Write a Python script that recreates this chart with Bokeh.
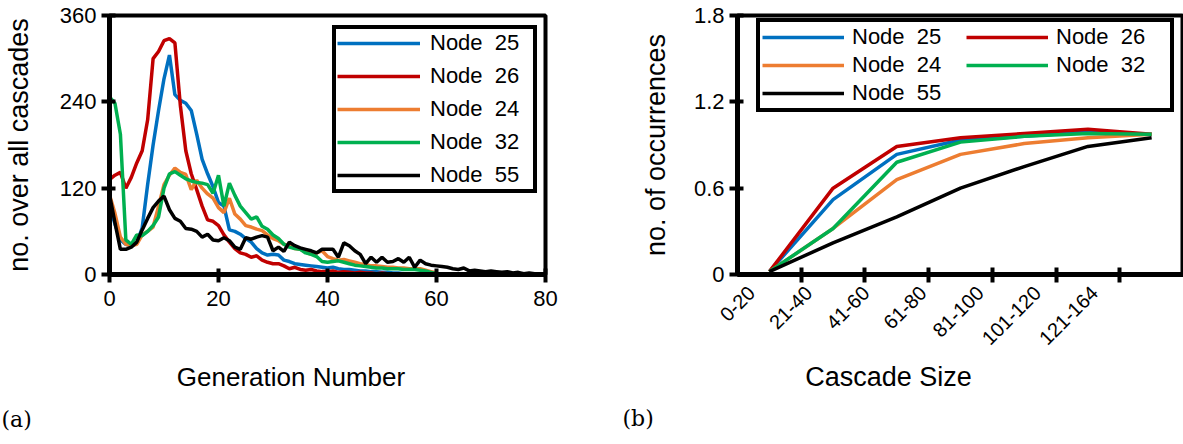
import math
from bokeh.plotting import figure
from bokeh.models import FixedTicker, Legend, LegendItem, Range1d, LinearAxis, Title
from bokeh.layouts import row
from bokeh.embed import file_html
from bokeh.resources import INLINE

# ---------------- data: panel (a) ----------------
gen_ticks = [0, 20, 40, 60, 80]
count_ticks = [0, 120, 240, 360]

node25 = [97, 70, 48, 42, 40, 44, 65, 125, 180, 228, 272, 305, 250, 242, 238, 228, 195, 160,
          140, 122, 100, 95, 62, 60, 56, 50, 45, 36, 30, 27, 28, 27, 20, 18, 15, 14, 13, 12,
          11, 10, 9, 10, 8, 7, 7, 6, 5, 5, 4, 4, 3, 3, 2, 2, 1, 1]
node26 = [132, 138, 142, 120, 135, 155, 172, 215, 300, 310, 325, 328, 322, 235, 172, 140, 118, 95,
          76, 74, 68, 55, 45, 36, 30, 28, 24, 26, 20, 17, 15, 15, 12, 8, 10, 7, 6, 7,
          5, 4, 4, 5, 3, 4, 3, 2, 3, 2, 2, 1, 2, 1, 1, 1, 0, 0]
node24 = [111, 85, 52, 42, 40, 42, 55, 60, 66, 95, 125, 138, 148, 142, 139, 118, 131, 120,
          112, 106, 93, 86, 106, 84, 77, 68, 66, 63, 61, 55, 50, 47, 42, 40, 36, 35, 31, 28,
          30, 33, 25, 22, 20, 21, 19, 17, 15, 14, 12, 12, 11, 10, 10, 9, 9, 8, 8, 8, 6, 4, 2]
node32 = [247, 238, 195, 48, 42, 55, 54, 60, 68, 80, 120, 140, 143, 138, 133, 130, 128, 127,
          125, 113, 138, 95, 127, 110, 95, 86, 77, 80, 67, 63, 55, 50, 42, 38, 36, 35, 30, 28,
          25, 18, 17, 18, 19, 17, 15, 13, 12, 11, 10, 9, 9, 8, 8, 8, 7, 7, 7, 6, 5, 3, 1]
node55 = [111, 72, 35, 35, 38, 45, 62, 78, 93, 102, 109, 90, 78, 74, 64, 63, 60, 52,
          56, 48, 47, 51, 47, 38, 35, 51, 49, 52, 54, 52, 33, 38, 32, 45, 40, 37, 35, 33,
          30, 35, 35, 35, 24, 44, 40, 33, 28, 15, 24, 17, 24, 17, 18, 22, 17, 24, 10, 20,
          15, 13, 12, 11, 10, 8, 7, 9, 5, 6, 5, 4, 5, 4, 3, 4, 2, 3, 1, 2, 1, 1, 1]

# ---------------- data: panel (b) ----------------
cascade_sizes = ["0-20", "21-40", "41-60", "61-80", "81-100", "101-120", "121-164"]
occ_ticks = [0, 0.6, 1.2, 1.8]
occ25 = [0.02, 0.52, 0.835, 0.935, 0.96, 0.99, 0.975]
occ26 = [0.02, 0.60, 0.89, 0.95, 0.98, 1.01, 0.975]
occ24 = [0.02, 0.32, 0.66, 0.835, 0.91, 0.95, 0.975]
occ32 = [0.02, 0.32, 0.78, 0.92, 0.96, 0.98, 0.975]
occ55 = [0.02, 0.22, 0.40, 0.60, 0.75, 0.89, 0.95]

labels = ["Node  25", "Node  26", "Node  24", "Node  32", "Node  55"]
colors = ["#0070C0", "#C00000", "#ED7D31", "#00B050", "#000000"]

FONT = "Liberation Sans"
SERIF = "DejaVu Serif"


def style_axis(ax):
    ax.axis_line_width = 5
    ax.axis_line_color = "black"
    ax.major_tick_line_width = 4
    ax.major_tick_line_color = "black"
    ax.major_tick_in = 6
    ax.major_tick_out = 8
    ax.minor_tick_line_color = None
    ax.major_label_text_font = FONT
    ax.major_label_text_font_size = "22px"
    ax.major_label_text_color = "black"
    ax.axis_label_text_font = FONT
    ax.axis_label_text_font_style = "normal"
    ax.axis_label_text_font_size = "27px"
    ax.axis_label_text_color = "black"


def style(p):
    p.xgrid.visible = False
    p.ygrid.visible = False
    p.outline_line_color = "black"
    p.outline_line_width = 4
    p.background_fill_color = "white"
    p.border_fill_color = "white"
    style_axis(p.xaxis[0])
    style_axis(p.yaxis[0])


def title_axis(pos, text, size, standoff, range_name="default"):
    """A line-less axis whose single tick label serves as the x-axis title."""
    ax = LinearAxis(x_range_name=range_name, ticker=FixedTicker(ticks=[pos]))
    style_axis(ax)
    ax.axis_line_color = None
    ax.major_tick_line_color = None
    ax.major_tick_in = 0
    ax.major_tick_out = 0
    ax.major_label_overrides = {pos: text}
    ax.major_label_text_font_size = size
    ax.major_label_standoff = standoff
    return ax


def tag(text, offset, standoff):
    return Title(text=text, align="left", offset=offset, standoff=standoff,
                 text_font=SERIF, text_font_size="22px", text_font_style="normal",
                 text_color="black")


H = 442

# ---------------- panel (a) ----------------
p1 = figure(width=600, height=H, x_range=Range1d(0, 80), y_range=Range1d(0, 360),
            output_backend="svg", toolbar_location=None,
            min_border_left=108, min_border_right=55, min_border_top=13,
            min_border_bottom=H - 274)
style(p1)
p1.xaxis.ticker = FixedTicker(ticks=gen_ticks)
p1.yaxis.ticker = FixedTicker(ticks=count_ticks)
p1.yaxis.axis_label = "no. over all cascades"
p1.yaxis.axis_label_standoff = 23
p1.xaxis.major_label_standoff = 8

items1 = []
for lab, col, ys in zip(labels, colors, [node25, node26, node24, node32, node55]):
    xs = list(range(len(ys)))
    r = p1.line(xs, ys, line_color=col, line_width=3.5)
    items1.append(LegendItem(label=lab, renderers=[r]))

leg1 = Legend(items=items1, location=(223, 81), orientation="vertical", margin=0,
              label_text_font=FONT, label_text_font_size="22px", label_text_color="black",
              glyph_width=83, glyph_height=22, label_standoff=10, spacing=7, padding=1,
              label_width=102,
              border_line_color="black", border_line_width=4, border_line_alpha=1.0,
              background_fill_alpha=1.0)
p1.add_layout(leg1)

p1.add_layout(title_axis(33.3, "Generation Number", "26px", 53), "below")
p1.add_layout(tag("(a)", -108, 20), "below")

# ---------------- panel (b) ----------------
p2 = figure(width=583, height=H, x_range=Range1d(0, len(cascade_sizes)), y_range=Range1d(0, 1.8),
            output_backend="svg", toolbar_location=None,
            min_border_left=137, min_border_right=0, min_border_top=15,
            min_border_bottom=H - 274)
style(p2)
centers = [i + 0.5 for i in range(len(cascade_sizes))]
bounds = list(range(1, len(cascade_sizes)))
# category boundaries as tick marks on the main axis
p2.xaxis.ticker = FixedTicker(ticks=[], minor_ticks=bounds)
p2.xaxis.minor_tick_line_color = "black"
p2.xaxis.minor_tick_line_width = 4
p2.xaxis.minor_tick_in = 7
p2.xaxis.minor_tick_out = 8
p2.xaxis.major_label_standoff = 0

# rotated category names on a label-only axis (spacing as in the original figure)
p2.extra_x_ranges = {"labels": Range1d(0.255, 8.057)}
lab_axis = LinearAxis(x_range_name="labels", ticker=FixedTicker(ticks=centers))
style_axis(lab_axis)
lab_axis.axis_line_color = None
lab_axis.major_tick_line_color = None
lab_axis.major_tick_in = 0
lab_axis.major_tick_out = 0
lab_axis.major_label_overrides = {c: s for c, s in zip(centers, cascade_sizes)}
lab_axis.major_label_orientation = math.pi / 4
lab_axis.major_label_text_font_size = "20px"
lab_axis.major_label_standoff = 7
p2.add_layout(lab_axis, "below")

p2.add_layout(title_axis(2.37, "Cascade Size", "27px", 7), "below")
p2.add_layout(tag("(b)", -115, 19), "below")

p2.yaxis.ticker = FixedTicker(ticks=occ_ticks)
p2.yaxis.major_label_overrides = {t: ("0" if t == 0 else str(t)) for t in occ_ticks}
p2.yaxis.axis_label = "no. of occurrences"
p2.yaxis.axis_label_standoff = 20

items2 = []
for lab, col, ys in zip(labels, colors, [occ25, occ26, occ24, occ32, occ55]):
    r = p2.line(centers, ys, line_color=col, line_width=3.5)
    items2.append(LegendItem(label=lab, renderers=[r]))

leg2 = Legend(items=items2, location=(19, 162), orientation="horizontal", ncols=2, margin=0,
              label_text_font=FONT, label_text_font_size="22px", label_text_color="black",
              glyph_width=82, glyph_height=22, label_standoff=8, label_width=112,
              spacing=2, padding=2,
              border_line_color="black", border_line_width=4, border_line_alpha=1.0,
              background_fill_alpha=1.0)
p2.add_layout(leg2)

layout = row(p1, p2)
open("out.html", "w").write(file_html(layout, INLINE))
